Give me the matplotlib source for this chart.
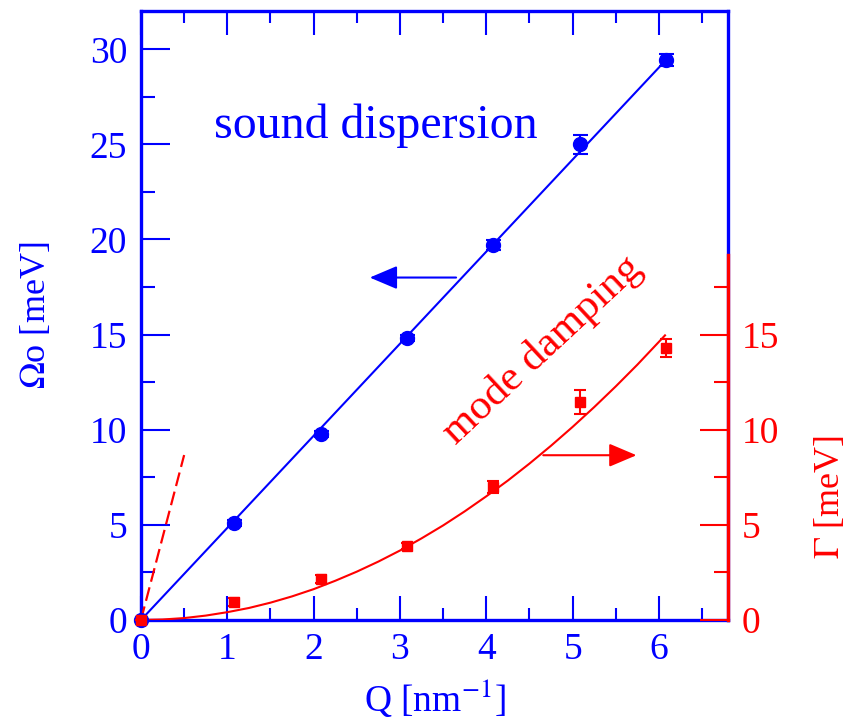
import matplotlib
matplotlib.use("Agg")
import matplotlib.pyplot as plt
from matplotlib.ticker import MultipleLocator

plt.rcParams['font.family'] = ['Liberation Serif', 'DejaVu Serif']
plt.rcParams['mathtext.fontset'] = 'stix'

BLUE = '#0000ff'
RED = '#ff0000'

# measured sound-mode data
q = [0.0, 1.08, 2.08, 3.08, 4.08, 5.08, 6.08]
omega0 = [0.0, 5.08, 9.77, 14.82, 19.70, 25.00, 29.43]
omega0_err = [0.0, 0.15, 0.15, 0.15, 0.25, 0.48, 0.33]
gamma = [0.0, 0.93, 2.14, 3.88, 6.98, 11.46, 14.29]
gamma_err = [0.0, 0.20, 0.20, 0.15, 0.30, 0.63, 0.47]

# linear dispersion fit
q_lin = [0.0, 6.08]
omega_lin = [0.0, 29.43]

# damping fit curve
q_damp = [0.0, 0.25, 0.5, 0.75, 1.0, 1.25, 1.5, 1.75, 2.0, 2.25, 2.5, 2.75,
          3.0, 3.25, 3.5, 3.75, 4.0, 4.25, 4.5, 4.75, 5.0, 5.25, 5.5, 5.75,
          6.07]
gamma_damp = [0.0, 0.025, 0.10, 0.23, 0.41, 0.63, 0.91, 1.24, 1.62, 2.06,
              2.54, 3.07, 3.65, 4.29, 4.97, 5.71, 6.50, 7.33, 8.22, 9.16,
              10.15, 11.19, 12.28, 13.42, 14.96]

# steep reference line near the origin
q_ref = [0.0, 0.5]
omega_ref = [0.0, 8.67]

x_ticks = [0, 1, 2, 3, 4, 5, 6]
y_ticks = [0, 5, 10, 15, 20, 25, 30]
g_ticks = [0, 5, 10, 15]

fig = plt.figure(figsize=(8.57, 7.23), dpi=100)
ax = fig.add_axes([0.1645, 0.1425, 0.685, 0.842])
ax.set_xlim(0, 6.8)
ax.set_ylim(0, 32)

for side in ('left', 'top', 'bottom', 'right'):
    ax.spines[side].set_color(BLUE)
    ax.spines[side].set_linewidth(2.4)

ax.set_xticks(x_ticks)
ax.set_yticks(y_ticks)
ax.xaxis.set_minor_locator(MultipleLocator(0.5))
ax.yaxis.set_minor_locator(MultipleLocator(2.5))
ax.tick_params(axis='x', which='major', direction='in', length=17, width=1.5,
               color=BLUE, labelcolor=BLUE, labelsize=27, pad=9,
               top=True, bottom=True)
ax.tick_params(axis='x', which='minor', direction='in', length=8.6, width=1.5,
               color=BLUE, top=True, bottom=True)
ax.tick_params(axis='y', which='major', direction='in', length=21, width=1.5,
               color=BLUE, labelcolor=BLUE, labelsize=27, pad=10,
               left=True, right=False)
ax.tick_params(axis='y', which='minor', direction='in', length=10, width=1.5,
               color=BLUE, left=True, right=False)

# red damping axis on the right, same scale
tw = ax.twinx()
tw.set_ylim(0, 32)
for side in ('left', 'top', 'bottom'):
    tw.spines[side].set_visible(False)
tw.spines['right'].set_color(RED)
tw.spines['right'].set_linewidth(2.4)
tw.spines['right'].set_bounds(0, 19.2)
tw.set_yticks(g_ticks)
tw.set_yticks([2.5, 7.5, 12.5, 17.5], minor=True)
tw.tick_params(axis='y', which='major', direction='in', length=20, width=1.5,
               color=RED, labelcolor=RED, labelsize=27, pad=10)
tw.tick_params(axis='y', which='minor', direction='in', length=10, width=1.5,
               color=RED)

# curves
ax.plot(q_lin, omega_lin, color=BLUE, lw=1.5, zorder=3)
ax.plot(q_ref, omega_ref, color=RED, lw=1.6, ls=(0, (6.3, 2.6)), zorder=3)
ax.plot(q_damp, gamma_damp, color=RED, lw=1.5, zorder=3)

# data with error bars
ax.errorbar(q, omega0, yerr=omega0_err, fmt='o', color=BLUE, ms=10,
            capsize=5.4, elinewidth=1.5, capthick=1.5, clip_on=False, zorder=4)
ax.errorbar(q, gamma, yerr=gamma_err, fmt='s', color=RED, ms=7.5,
            capsize=4.3, elinewidth=1.5, capthick=1.5, clip_on=False, zorder=5)

# arrows pointing to the relevant axes
arrow = '-|>,head_length=1.7,head_width=0.72'
ax.annotate('', xy=(2.65, 18.0), xytext=(3.65, 18.0),
            arrowprops=dict(arrowstyle=arrow, color=BLUE, lw=1.5,
                            shrinkA=0, shrinkB=0))
ax.annotate('', xy=(5.74, 8.66), xytext=(4.66, 8.66),
            arrowprops=dict(arrowstyle=arrow, color=RED, lw=1.5,
                            shrinkA=0, shrinkB=0))

ax.text(2.72, 26.0, 'sound dispersion', color=BLUE, fontsize=34.5,
        ha='center', va='center')
ax.text(4.65, 14.2, 'mode damping', color=RED, fontsize=31,
        rotation=43, rotation_mode='anchor', ha='center', va='center')

fig.text(36 / 857, 1 - 315 / 723, r'$\Omega$o [meV]', color=BLUE, fontsize=26,
         rotation=90, ha='center', va='center')
fig.text(830 / 857, 1 - 497 / 723, r'$\Gamma$ [meV]', color=RED, fontsize=26,
         rotation=90, ha='center', va='center')
fig.text(435 / 857, 1 - 712 / 723, r'Q [nm$^{-1}$]', color=BLUE, fontsize=27,
         ha='center', va='baseline')

fig.savefig('out.png', dpi=100)
